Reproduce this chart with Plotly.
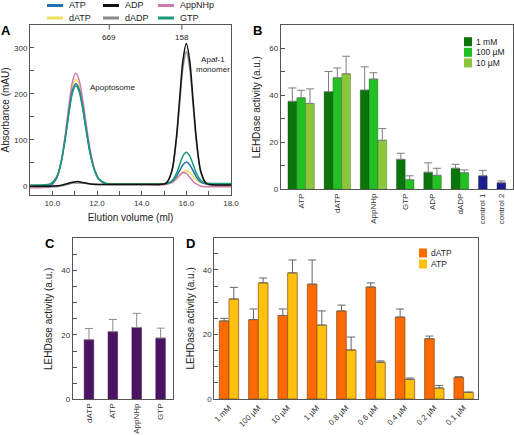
import plotly.graph_objects as go

W, H = 514, 435
FONT = "Arial, Liberation Sans, sans-serif"

# ---------------- Panel A data (elution profiles) ----------------
elution_ml = [9.0, 9.5, 9.9, 10.2, 10.4, 10.6, 10.75, 10.9, 11.05, 11.2, 11.35, 11.5, 11.7, 11.9,
              12.1, 12.4, 12.8, 13.5, 14.2, 14.8, 15.1, 15.35, 15.55, 15.7, 15.85, 16.0, 16.15,
              16.3, 16.45, 16.65, 16.9, 17.3, 18.0]
abs_ATP = [0, 0, 2, 18, 52, 111, 164, 207, 222, 210, 175, 128, 70, 33, 14, 5, 4, 4, 4, 4, 5, 9,
           20, 33, 46, 52, 46, 33, 19, 8, 4, 3, 3]
abs_dATP = [1, 1, 3, 20, 54, 116, 170, 215, 232, 218, 181, 133, 73, 35, 15, 6, 5, 5, 5, 5, 5, 8,
            14, 22, 30, 33, 29, 21, 13, 7, 4, 4, 4]
abs_AppNHp = [-4, -4, -2, 17, 54, 119, 178, 226, 245, 230, 190, 139, 76, 34, 13, 4, 3, 3, 3, 2, 3,
              7, 15, 23, 29, 27, 19, 10, 4, -1, -2, -2, -2]
abs_GTP = [2, 2, 4, 20, 52, 109, 160, 202, 218, 205, 170, 124, 68, 32, 13, 5, 4, 4, 4, 4, 5, 11,
           26, 46, 65, 73, 65, 47, 27, 12, 6, 5, 5]
abs_ADP = [-1, -1, -1, 0, 1, 4, 6, 8, 9, 9, 7, 6, 4, 3, 3, 3, 3, 3, 3, 3, 6, 32, 103, 189, 274,
           310, 273, 188, 102, 31, 5, 2, 2]
abs_dADP = [-2, -2, -2, -2, 0, 2, 4, 6, 6, 6, 6, 5, 4, 4, 3, 3, 3, 3, 3, 3, 6, 31, 97, 178, 258,
            292, 257, 177, 95, 29, 4, 1, 1]
profile_names = ["ATP", "ADP", "AppNHp", "dATP", "dADP", "GTP"]
profile_colors = ["#2171b5", "#111111", "#d07aaa", "#ede15c", "#8a8a8a", "#1b9a78"]
profiles = {"ATP": abs_ATP, "ADP": abs_ADP, "AppNHp": abs_AppNHp,
            "dATP": abs_dATP, "dADP": abs_dADP, "GTP": abs_GTP}
draw_order = ["dATP", "AppNHp", "ATP", "GTP", "dADP", "ADP"]
marker_ml = [12.55, 15.8]
marker_kda = ["669", "158"]

# ---------------- Panel B data ----------------
b_categories = ["ATP", "dATP", "AppNHp", "GTP", "ADP", "dADP", "control 1", "control 2"]
b_series = ["1 mM", "100 µM", "10 µM", "control"]
b_1mM = [37.5, 41.6, 42.3, 12.8, 7.3, 9.0, None, None]
b_100uM = [39.0, 47.5, 47.0, 4.1, 6.0, 7.1, None, None]
b_10uM = [36.6, 49.2, 20.9, None, None, None, None, None]
b_ctrl = [None, None, None, None, None, None, 5.8, 2.85]
b_err_1mM = [5.7, 8.6, 9.9, 2.6, 4.0, 1.7, None, None]
b_err_100uM = [3.2, 4.2, 2.7, 1.7, 3.0, 1.2, None, None]
b_err_10uM = [6.2, 7.5, 5.0, None, None, None, None, None]
b_err_ctrl = [None, None, None, None, None, None, 2.3, 0.75]
b_colors = ["#0b740b", "#22c022", "#8cc63c", "#1c1c8c"]

# ---------------- Panel C data ----------------
c_categories = ["dATP", "ATP", "AppNHp", "GTP"]
c_values = [18.5, 21.0, 22.3, 19.0]
c_errors = [3.5, 3.8, 4.4, 3.1]

# ---------------- Panel D data ----------------
d_categories = ["1 mM", "100 µM", "10 µM", "1 µM", "0.8 µM", "0.6 µM", "0.4 µM", "0.2 µM", "0.1 µM"]
d_dATP = [24.2, 24.6, 25.9, 35.6, 27.3, 34.7, 25.4, 18.7, 6.7]
d_ATP = [31.0, 36.0, 39.1, 22.9, 15.2, 11.4, 6.1, 3.4, 2.1]
d_err_dATP = [0.8, 3.3, 2.0, 7.5, 1.8, 1.3, 2.5, 0.8, 0.2]
d_err_ATP = [3.6, 1.5, 4.0, 4.4, 4.0, 0.4, 0.4, 0.8, 0.0]

fig = go.Figure()

# ---------- Panel A ----------
for name in draw_order:
    fig.add_trace(go.Scatter(
        x=elution_ml, y=profiles[name], mode="lines", name=name,
        line=dict(color=profile_colors[profile_names.index(name)], width=1.5,
                  shape="spline", smoothing=0.8),
        xaxis="x", yaxis="y", showlegend=False))

# ---------- Panel B: positions computed from bar counts ----------
b_vals = [b_1mM, b_100uM, b_10uM, b_ctrl]
b_errs = [b_err_1mM, b_err_100uM, b_err_10uM, b_err_ctrl]
GAP, EDGE = 1.1, 0.82
pos = {k: [] for k in range(len(b_vals))}
centers = []
start = EDGE
for g in range(len(b_categories)):
    present = [k for k in range(len(b_vals)) if b_vals[k][g] is not None]
    for i, k in enumerate(present):
        pos[k].append(start + i + 0.5)
    centers.append(start + len(present) / 2)
    start += len(present) + GAP
b_total = start - GAP + EDGE

for k in range(len(b_vals)):
    ys = [v for v in b_vals[k] if v is not None]
    es = [e for e in b_errs[k] if e is not None]
    fig.add_trace(go.Bar(
        x=pos[k], y=ys, name=b_series[k], width=1, offset=-0.5,
        marker=dict(color=b_colors[k], line=dict(color="rgba(0,40,0,0.5)", width=0.5)),
        error_y=dict(type="data", array=es, arrayminus=[0] * len(es), symmetric=False,
                     color="#7f7f7f", thickness=1, width=4),
        xaxis="x2", yaxis="y2", showlegend=False))

# ---------- Panel C ----------
fig.add_trace(go.Bar(
    x=c_categories, y=c_values, width=0.4, name="C",
    marker=dict(color="#4a1462", line=dict(color="#3a0a50", width=0.5)),
    error_y=dict(type="data", array=c_errors, arrayminus=[0] * len(c_errors), symmetric=False,
                 color="#8a8a8a", thickness=1, width=4),
    xaxis="x3", yaxis="y3", showlegend=False))

# ---------- Panel D ----------
d_colors = ["#ff6a00", "#ffc10e"]
for nm, vals, errs, col in [("dATP", d_dATP, d_err_dATP, d_colors[0]),
                            ("ATP", d_ATP, d_err_ATP, d_colors[1])]:
    fig.add_trace(go.Bar(
        x=d_categories, y=vals, name=nm,
        marker=dict(color=col, line=dict(color="#8a4a10", width=0.7)),
        error_y=dict(type="data", array=errs, arrayminus=[0] * len(errs), symmetric=False,
                     color="#666666", thickness=1, width=4),
        xaxis="x4", yaxis="y4", showlegend=False))

# ---------- axes ----------
def px(x):
    return x / W

def py(y):
    return 1 - y / H

axcol = "#555555"
tickfont = dict(family=FONT, size=8, color="#333333")
titlefont = dict(family=FONT, size=10, color="#222222")
common = dict(showline=True, linecolor=axcol, linewidth=1, mirror=True, showgrid=False,
              zeroline=False, tickfont=tickfont, tickcolor=axcol)

fig.update_layout(
    xaxis=dict(domain=[px(30), px(231)], range=[9, 18], anchor="y",
               tickvals=[10, 12, 14, 16, 18], tickformat=".1f", ticks="inside", ticklen=4,
               minor=dict(dtick=1, ticks="inside", ticklen=4, tickcolor=axcol),
               title=dict(text="Elution volume (ml)", font=titlefont, standoff=7), **common),
    yaxis=dict(domain=[py(195), py(25)], range=[-20, 350], anchor="x",
               tickvals=[0, 100, 200, 300], ticks="inside", ticklen=4,
               minor=dict(dtick=50, ticks="inside", ticklen=4, tickcolor=axcol),
               title=dict(text="Absorbance (mAU)", font=titlefont, standoff=6), **common),
    xaxis2=dict(domain=[px(280.7), px(513)], range=[0, b_total], anchor="y2",
                tickvals=centers, ticktext=b_categories, tickangle=-90, ticks="",
                **common),
    yaxis2=dict(domain=[py(189.4), py(25)], range=[0, 70], anchor="x2",
                tickvals=[0, 20, 40, 60], ticks="inside", ticklen=4,
                minor=dict(dtick=10, ticks="inside", ticklen=4, tickcolor=axcol),
                title=dict(text="LEHDase activity (a.u.)", font=titlefont, standoff=6), **common),
    xaxis3=dict(domain=[px(72.7), px(173)], range=[-0.68, 3.52], anchor="y3",
                tickangle=-90, ticks="", type="category", **common),
    yaxis3=dict(domain=[py(399.3), py(238.3)], range=[0, 50], anchor="x3",
                tickvals=[0, 20, 40], ticks="inside", ticklen=4,
                minor=dict(dtick=5, ticks="inside", ticklen=4, tickcolor=axcol),
                title=dict(text="LEHDase activity (a.u.)", font=titlefont, standoff=6), **common),
    xaxis4=dict(domain=[px(214.3), px(478.3)], range=[-0.5, 8.5], anchor="y4",
                tickangle=-45, ticks="", type="category", **common),
    yaxis4=dict(domain=[py(399), py(237.7)], range=[0, 50], anchor="x4",
                tickvals=[0, 20, 40], ticks="inside", ticklen=4,
                minor=dict(dtick=5, ticks="inside", ticklen=4, tickcolor=axcol),
                title=dict(text="LEHDase activity (a.u.)", font=titlefont, standoff=6), **common),
    barmode="group", bargap=0.34, bargroupgap=0,
    width=W, height=H, margin=dict(l=0, r=0, t=0, b=0, autoexpand=False),
    paper_bgcolor="white", plot_bgcolor="white",
    font=dict(family=FONT, size=9, color="#222222"),
)

ann = []
shapes = []

# panel letters
for letter, x, y in [("A", 5.5, 31), ("B", 257, 31), ("C", 50, 243), ("D", 190, 243)]:
    ann.append(dict(text="<b>%s</b>" % letter, x=px(x), y=py(y), xref="paper", yref="paper",
                    xanchor="center", yanchor="middle", showarrow=False,
                    font=dict(family=FONT, size=13, color="black")))

# Panel A annotations
ann.append(dict(text="Apoptosome", x=12.7, y=213, xref="x", yref="y", showarrow=False,
                font=dict(family=FONT, size=8, color="#222")))
ann.append(dict(text="Apaf-1<br>monomer", x=17.2, y=265, xref="x", yref="y", showarrow=False,
                font=dict(family=FONT, size=8, color="#222")))
for mx, lbl in zip(marker_ml, marker_kda):
    ann.append(dict(text=lbl, x=mx, y=0.965, xref="x", yref="y domain", showarrow=False,
                    yanchor="top", font=dict(family=FONT, size=8, color="#222")))
    shapes.append(dict(type="line", xref="x", yref="y domain", x0=mx, x1=mx, y0=1, y1=0.972,
                       line=dict(color=axcol, width=1)))

# Panel A legend (two rows of three)
leg_x = [47, 103, 158]
leg_y = [5.5, 18]
for i, name in enumerate(profile_names):
    r, c = divmod(i, 3)
    x0 = leg_x[c]
    y0 = leg_y[r]
    shapes.append(dict(type="line", xref="paper", yref="paper", x0=px(x0), x1=px(x0 + 16),
                       y0=py(y0), y1=py(y0), line=dict(color=profile_colors[i], width=3)))
    ann.append(dict(text=name, x=px(x0 + 20), y=py(y0), xref="paper", yref="paper",
                    xanchor="left", yanchor="middle", showarrow=False,
                    font=dict(family=FONT, size=9, color="#222")))

# Panel B legend
for i, name in enumerate(b_series[:3]):
    yc = 41.7 + i * 10.6
    shapes.append(dict(type="rect", xref="paper", yref="paper", x0=px(464), x1=px(472),
                       y0=py(yc - 4.5), y1=py(yc + 4.5), fillcolor=b_colors[i],
                       line=dict(width=0)))
    ann.append(dict(text=name, x=px(474), y=py(yc), xref="paper", yref="paper",
                    xanchor="left", yanchor="middle", showarrow=False,
                    font=dict(family=FONT, size=8.5, color="#222")))

# Panel D legend
for i, name in enumerate(["dATP", "ATP"]):
    yc = 253 + i * 11
    shapes.append(dict(type="rect", xref="paper", yref="paper", x0=px(419), x1=px(427),
                       y0=py(yc - 4.5), y1=py(yc + 4.5), fillcolor=d_colors[i],
                       line=dict(width=0)))
    ann.append(dict(text=name, x=px(429), y=py(yc), xref="paper", yref="paper",
                    xanchor="left", yanchor="middle", showarrow=False,
                    font=dict(family=FONT, size=8.5, color="#222")))

fig.update_layout(annotations=ann, shapes=shapes)
fig.write_html("out.html", config={"displayModeBar": False},
               post_script="document.body.style.margin='0';document.body.style.overflow='hidden';")
